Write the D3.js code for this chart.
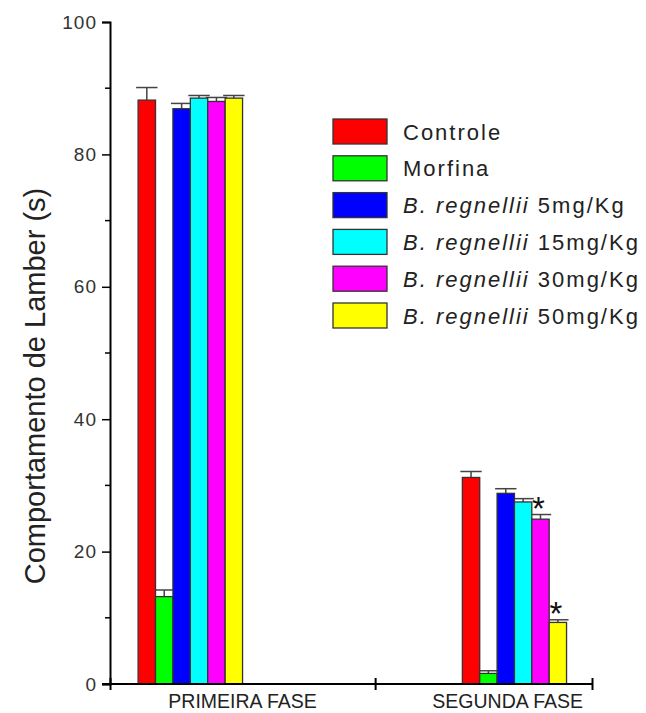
<!DOCTYPE html>
<html>
<head>
<meta charset="utf-8">
<script src="https://cdn.jsdelivr.net/npm/d3@7"></script>
<style>
  body { margin: 0; background: #fff; }
  svg { font-family: "Liberation Sans", Arial, sans-serif; }
</style>
</head>
<body>
<svg width="646" height="713"></svg>
<script>
// data
const phases = ['PRIMEIRA FASE', 'SEGUNDA FASE'];
const seriesNames = ['Controle', 'Morfina', 'B. regnellii 5mg/Kg', 'B. regnellii 15mg/Kg', 'B. regnellii 30mg/Kg', 'B. regnellii 50mg/Kg'];
const seriesColors = ['#ff0000', '#00ff00', '#0000ff', '#00ffff', '#ff00ff', '#ffff00'];
const primeiraMeans = [88.2, 13.2, 86.9, 88.5, 88.0, 88.5];
const primeiraErr = [1.9, 1.0, 0.8, 0.4, 0.6, 0.4];
const segundaMeans = [31.2, 1.6, 28.8, 27.5, 24.9, 9.3];
const segundaErr = [0.9, 0.4, 0.7, 0.5, 0.7, 0.4];
const segundaSig = [false, false, false, false, true, true];
const yTicks = [0, 20, 40, 60, 80, 100];

const svg = d3.select('svg');

const x = d3.scaleLinear().domain([0.5, 2.318]).range([110, 592]);
const y = d3.scaleLinear().domain([0, 100]).range([684, 22]);

// where each phase's group of bars sits along the x axis
const groupSpan = [[0.606, 1.0], [1.829, 2.222]];

const groups = phases.map((p, i) => ({
    phase: p,
    means: i === 0 ? primeiraMeans : segundaMeans,
    err: i === 0 ? primeiraErr : segundaErr,
    sig: i === 0 ? seriesNames.map(() => false) : segundaSig,
    band: d3.scaleBand().domain(d3.range(seriesNames.length))
            .range([x(groupSpan[i][0]), x(groupSpan[i][1])])
}));

// bars
groups.forEach(g => {
    const rows = seriesNames.map((s, j) => ({j, v: g.means[j], e: g.err[j], sig: g.sig[j]}));
    const gg = svg.append('g');
    const bw = g.band.bandwidth();

    gg.selectAll('line.err')
        .data(rows)
        .join('line')
        .attr('x1', d => g.band(d.j) + bw / 2)
        .attr('x2', d => g.band(d.j) + bw / 2)
        .attr('y1', d => y(d.v))
        .attr('y2', d => y(d.v + d.e))
        .attr('stroke', '#444')
        .attr('stroke-width', 1.5);

    gg.selectAll('line.cap')
        .data(rows)
        .join('line')
        .attr('x1', d => g.band(d.j) - 2)
        .attr('x2', d => g.band(d.j) + bw + 2)
        .attr('y1', d => y(d.v + d.e))
        .attr('y2', d => y(d.v + d.e))
        .attr('stroke', '#444')
        .attr('stroke-width', 1.5);

    gg.selectAll('rect')
        .data(rows)
        .join('rect')
        .attr('x', d => g.band(d.j))
        .attr('y', d => y(d.v))
        .attr('width', bw)
        .attr('height', d => y(0) - y(d.v))
        .attr('fill', d => seriesColors[d.j])
        .attr('stroke', '#333')
        .attr('stroke-width', 1.3);

    gg.selectAll('text.star')
        .data(rows.filter(d => d.sig))
        .join('text')
        .attr('x', d => g.band(d.j) + bw / 2 - 2)
        .attr('y', d => y(d.v + d.e) + 5)
        .attr('text-anchor', 'middle')
        .attr('font-size', 33)
        .attr('fill', '#111')
        .text('*');
});

// y axis
const yAxis = svg.append('g')
    .attr('transform', `translate(${x(0.5)},0)`)
    .call(d3.axisLeft(y).tickValues(yTicks).tickSize(8).tickPadding(5));
yAxis.select('.domain').attr('stroke', '#000').attr('stroke-width', 2);
yAxis.selectAll('.tick line').attr('stroke', '#000').attr('stroke-width', 1.5);
yAxis.selectAll('.tick text')
    .attr('font-size', 19)
    .attr('letter-spacing', 1)
    .attr('fill', '#333')
    .attr('font-family', '"Liberation Sans", Arial, sans-serif');

svg.append('g')
    .attr('transform', `translate(${x(0.5)},0)`)
    .selectAll('line')
    .data([10, 30, 50, 70, 90])
    .join('line')
    .attr('x1', -5).attr('x2', 0)
    .attr('y1', d => y(d)).attr('y2', d => y(d))
    .attr('stroke', '#000').attr('stroke-width', 1.5);

// x axis
const xAxis = svg.append('g')
    .attr('transform', `translate(0,${y(0)})`)
    .call(d3.axisBottom(x).tickValues([0.5, 1.5, 2.318]).tickFormat('').tickSize(6));
xAxis.select('.domain').remove();
xAxis.selectAll('.tick line').attr('y1', -6).attr('stroke', '#000').attr('stroke-width', 2);
xAxis.append('line')
    .attr('x1', x(0.5) - 8).attr('x2', x(2.318))
    .attr('stroke', '#000').attr('stroke-width', 2);

svg.selectAll('text.phase')
    .data(phases)
    .join('text')
    .attr('x', (d, i) => x(i + 1))
    .attr('y', 708)
    .attr('text-anchor', 'middle')
    .attr('font-size', 19.5)
    .attr('fill', '#222')
    .text(d => d);

// y axis title
svg.append('text')
    .attr('transform', 'translate(45,386) rotate(-90)')
    .attr('text-anchor', 'middle')
    .attr('font-size', 29)
    .attr('fill', '#222')
    .text('Comportamento de Lamber (s)');

// legend
const legend = svg.append('g').attr('transform', 'translate(333,119)');
const item = legend.selectAll('g')
    .data(seriesNames)
    .join('g')
    .attr('transform', (d, i) => `translate(0,${i * 36.8})`);

item.append('rect')
    .attr('width', 54).attr('height', 25)
    .attr('fill', (d, i) => seriesColors[i])
    .attr('stroke', '#333').attr('stroke-width', 1.3);

item.append('text')
    .attr('x', 70).attr('y', 20.5)
    .attr('font-size', 22)
    .attr('letter-spacing', 2)
    .attr('fill', '#222')
    .each(function(d) {
        const t = d3.select(this);
        if (d.startsWith('B. regnellii')) {
            t.append('tspan').attr('font-style', 'italic').text('B. regnellii');
            t.append('tspan').text(d.slice('B. regnellii'.length));
        } else {
            t.text(d);
        }
    });
</script>
</body>
</html>
